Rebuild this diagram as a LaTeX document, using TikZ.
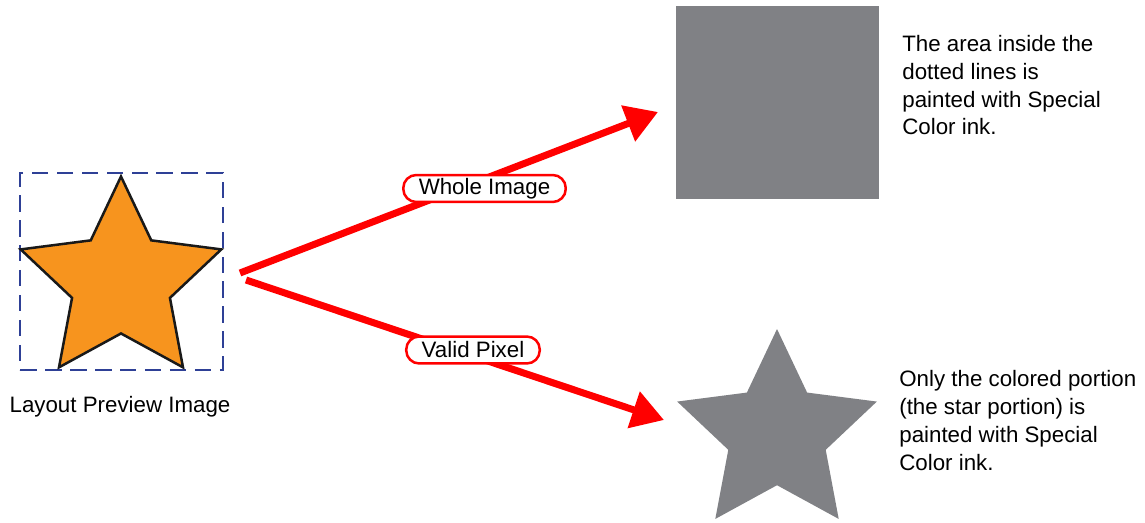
\documentclass[tikz,border=0pt]{standalone}
\usepackage{fontspec}
\setmainfont{Liberation Sans}
\usepackage{tikz}
\usetikzlibrary{arrows.meta,positioning,shapes.geometric}
\definecolor{starorange}{RGB}{247,148,30}
\definecolor{inkgray}{RGB}{128,129,133}
\definecolor{boxblue}{RGB}{46,64,150}
\tikzset{
  txt/.style={font=\fontsize{12.7}{15.9}\selectfont, inner sep=0pt, align=left},
  flowarr/.style={-{Triangle[length=0.64cm, width=0.74cm]}, red, line width=0.14cm},
  tag/.style={draw=red, fill=white, line width=0.05cm, rounded corners=0.26cm,
              minimum height=0.54cm, inner xsep=0.31cm, inner ysep=0pt,
              font=\fontsize{12.7}{15.9}\selectfont},
  dashbox/.style={draw=boxblue, line width=0.05cm, dash pattern=on 0.33cm off 0.17cm,
                  minimum width=4.06cm, minimum height=3.94cm, inner sep=0pt},
  starshape/.style={star, star points=5, star point ratio=2.05, inner sep=0pt},
}
\begin{document}
\begin{tikzpicture}[x=0.02cm, y=-0.02cm]
  \useasboundingbox (0,0) rectangle (1145,523);
%---------------- layout preview ----------------
  \node[dashbox] (preview) at (121.5,271.5) {};
  \node[starshape, draw=black!90, line width=0.05cm, fill=starorange,
        minimum size=4.22cm] (orangestar) at (121,282) {};
  \node[txt, anchor=base] (previewlbl) at (120,412) {Layout Preview Image};
%---------------- special color results ----------------
  \node[fill=inkgray, minimum width=4.06cm, minimum height=3.86cm, inner sep=0pt]
       (wholesq) at (777.5,102.5) {};
  \node[starshape, fill=inkgray, minimum size=4.2cm] (graystar) at (777,434) {};
  % multi-line texts: base anchor sits on the last line
  \node[txt, anchor=base west] (wholetxt) at (902,135)
       {The area inside the\\ dotted lines is\\ painted with Special\\ Color ink.};
  \node[txt, anchor=base west] (validtxt) at (899,470)
       {Only the colored portion\\ (the star portion) is\\ painted with Special\\ Color ink.};
%---------------- arrows ----------------
  \coordinate (upstart) at (240,273);
  \coordinate (uptip) at (658,112);
  \coordinate (lowstart) at (246,280);
  \coordinate (lowtip) at (664,420);
  \draw[flowarr] (upstart) -- (uptip);
  \draw[flowarr] (lowstart) -- (lowtip);
  \node[tag] (wholetag) at (484.5,188.5) {Whole Image};
  \node[tag] (validtag) at (473,350) {Valid Pixel};
\end{tikzpicture}
\end{document}
